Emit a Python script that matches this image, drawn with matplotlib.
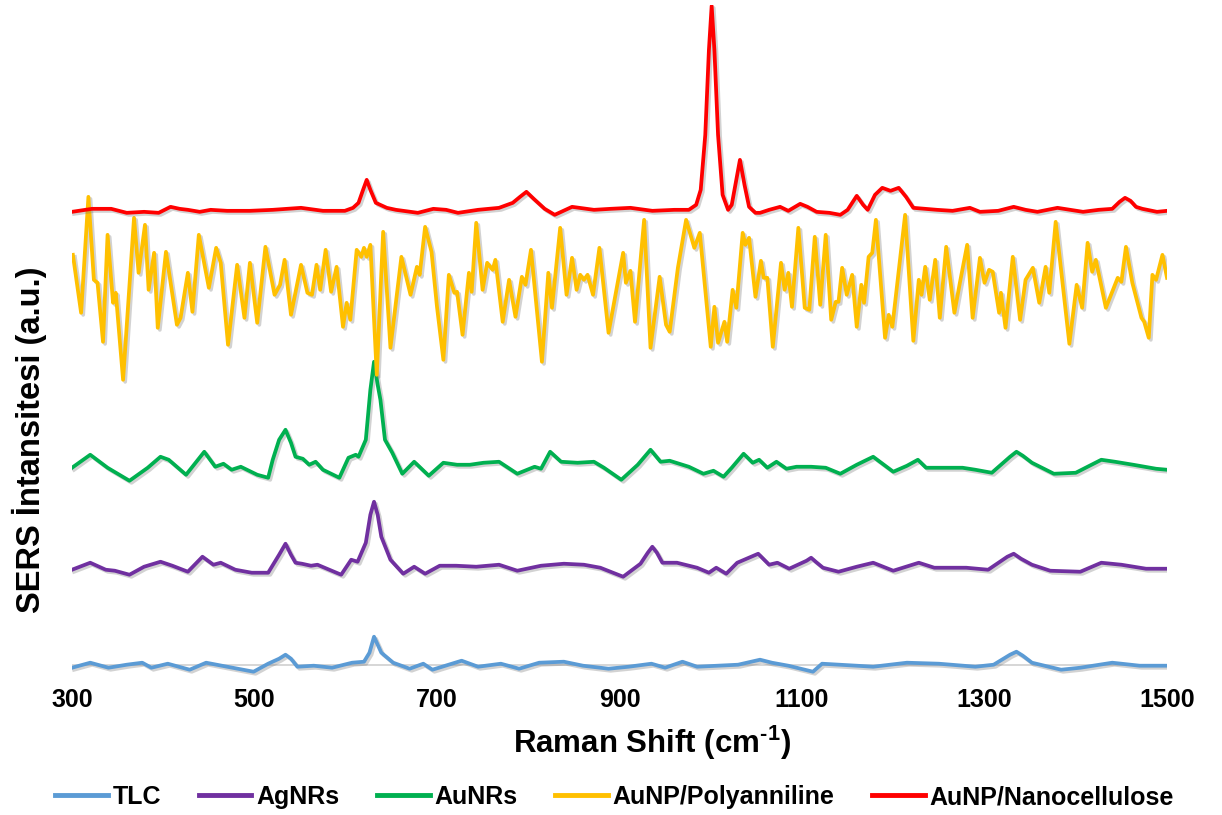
import matplotlib
matplotlib.use("Agg")
import matplotlib.pyplot as plt
import matplotlib.patheffects as pe

plt.rcParams['font.family'] = ['Liberation Sans', 'DejaVu Sans']
plt.rcParams['font.weight'] = 'bold'
plt.rcParams['mathtext.fontset'] = 'custom'
plt.rcParams['mathtext.rm'] = 'Liberation Sans:bold'
plt.rcParams['mathtext.bf'] = 'Liberation Sans:bold'
plt.rcParams['mathtext.default'] = 'bf'

# Raman shift (cm-1) / intensity (a.u., offset traces)
tlc_x = [300, 320, 340, 360, 377, 387, 405, 429, 447, 470, 499, 515, 527, 534, 540, 547,
         565, 585, 607, 620, 626, 631, 635, 639, 652, 670, 685, 695, 727, 745, 770, 790,
         812, 839, 860, 888, 910, 935, 950, 969, 985, 1030, 1054, 1067, 1085, 1112, 1122,
         1160, 1178, 1215, 1250, 1290, 1310, 1328, 1335, 1342, 1352, 1384, 1405, 1440,
         1470, 1500]
tlc_y = [-3, 2, -3, 0, 2, -3, 1, -5, 2, -2, -7, 1, 6, 10, 6, -2,
         -1, -3, 2, 3, 12, 28, 20, 12, 2, -4, 1, -5, 4, -2, 1, -4,
         2, 3, -1, -4, -2, 1, -3, 3, -2, 0, 5, 2, -1, -7, 1,
         -1, -2, 2, 1, -2, 0, 10, 13, 9, 2, -5, -3, 2,
         -1, -1]

ag_x = [300, 320, 337, 347, 363, 379, 397, 410, 427, 443, 455, 463, 479, 497, 515, 527,
        534, 540, 545, 552, 562, 569, 582, 595, 606, 613, 622, 627, 631, 635, 639, 649,
        663, 675, 687, 703, 721, 743, 768, 788, 814, 839, 861, 879, 904, 923, 931, 936,
        941, 947, 963, 985, 998, 1006, 1017, 1029, 1052, 1064, 1073, 1086, 1105, 1110,
        1115, 1123, 1140, 1160, 1178, 1200, 1228, 1245, 1280, 1304, 1325, 1332, 1340,
        1352, 1372, 1405, 1428, 1450, 1477, 1500]
ag_y = [95, 102, 95, 94, 90, 98, 103, 99, 93, 108, 100, 102, 95, 92, 92, 110,
        121, 110, 102, 101, 99, 100, 95, 90, 105, 103, 122, 150, 163, 150, 128, 105,
        91, 98, 91, 99, 99, 98, 100, 94, 99, 101, 100, 97, 88, 101, 112, 118,
        112, 102, 102, 97, 92, 97, 91, 102, 111, 100, 102, 96, 104, 107,
        103, 97, 93, 98, 102, 94, 102, 97, 97, 95, 108, 111, 106,
        100, 94, 93, 102, 100, 96, 96]

au_x = [300, 320, 339, 363, 383, 397, 406, 425, 445, 457, 466, 475, 485, 503, 515, 520,
        527, 534, 540, 545, 553, 560, 567, 575, 593, 603, 611, 614, 622, 627, 631, 635,
        638, 643, 651, 662, 675, 691, 707, 722, 736, 751, 768, 788, 807, 814, 824, 836,
        854, 872, 883, 902, 920, 934, 945, 955, 976, 992, 1003, 1014, 1023, 1036, 1046,
        1053, 1062, 1072, 1083, 1094, 1110, 1126, 1142, 1160, 1178, 1200, 1215, 1227,
        1236, 1254, 1276, 1290, 1308, 1328, 1335, 1342, 1352, 1376, 1400, 1428, 1443,
        1463, 1488, 1500]
au_y = [197, 210, 197, 184, 197, 208, 205, 190, 213, 198, 201, 195, 198, 190, 187, 205,
        225, 235, 222, 208, 206, 200, 203, 195, 187, 207, 210, 208, 225, 275, 303, 280,
        265, 225, 212, 191, 203, 189, 202, 200, 200, 202, 203, 191, 198, 196, 213, 203,
        202, 203, 197, 185, 200, 215, 203, 204, 198, 191, 194, 188, 197, 211, 202,
        205, 197, 203, 196, 198, 198, 197, 191, 200, 208, 193, 199, 205,
        197, 197, 197, 195, 192, 208, 213, 209, 202, 191, 192, 205, 203,
        200, 196, 195]

pani_x = [301, 310, 318, 324, 328, 334, 339, 345, 348, 356, 368, 373, 380, 384, 390, 394,
          403, 415, 419, 427, 432, 439, 450, 458, 463, 471, 481, 489, 495, 503, 512, 522,
          528, 533, 540, 551, 558, 563, 568, 572, 578, 584, 590, 597, 601, 605, 612, 617,
          620, 623, 627, 634, 641, 649, 661, 671, 678, 681, 687, 694, 700, 707, 713, 719,
          722, 728, 735, 738, 743, 750, 755, 761, 764, 772, 779, 786, 793, 797, 803, 815,
          822, 826, 835, 842, 848, 853, 857, 861, 865, 871, 878, 888, 896, 904, 907, 912,
          917, 927, 934, 944, 951, 955, 964, 973, 982, 988, 1000, 1004, 1008, 1015, 1018,
          1024, 1028, 1035, 1038, 1042, 1049, 1055, 1058, 1062, 1068, 1077, 1081, 1085, 1089,
          1096, 1103, 1108, 1114, 1120, 1126, 1132, 1137, 1140, 1144, 1149, 1155, 1160, 1165,
          1168, 1173, 1177, 1181, 1191, 1195, 1199, 1213, 1222, 1228, 1231, 1235, 1240, 1246,
          1251, 1258, 1267, 1273, 1281, 1287, 1295, 1300, 1305, 1309, 1316, 1318, 1323, 1331,
          1339, 1345, 1353, 1360, 1367, 1371, 1378, 1393, 1401, 1407, 1413, 1418, 1422, 1433,
          1446, 1450, 1455, 1462, 1472, 1475, 1480, 1484, 1488, 1495, 1500]
pani_y = [410, 352, 468, 385, 382, 323, 430, 362, 372, 285, 447, 392, 440, 375, 412, 337,
          413, 340, 347, 392, 353, 430, 377, 417, 402, 320, 400, 347, 402, 342, 418, 370,
          380, 405, 350, 400, 372, 370, 400, 375, 415, 373, 398, 338, 362, 345, 415, 408,
          417, 408, 420, 290, 433, 317, 408, 370, 398, 390, 438, 413, 358, 305, 390, 372,
          373, 330, 392, 373, 442, 375, 402, 395, 405, 343, 385, 348, 388, 380, 415, 303,
          392, 357, 437, 370, 407, 375, 390, 385, 390, 370, 417, 332, 372, 412, 382, 394,
          343, 445, 317, 388, 340, 333, 397, 445, 417, 432, 318, 358, 322, 343, 323,
          375, 357, 432, 420, 427, 368, 404, 387, 387, 318, 402, 375, 392, 358,
          437, 357, 355, 428, 360, 430, 345, 363, 363, 397, 370, 390, 338, 380,
          362, 408, 412, 445, 327, 350, 338, 450, 324, 385, 370, 398, 365, 405,
          347, 418, 352, 382, 420, 347, 407, 382, 395, 393, 352, 372, 337, 408,
          345, 385, 397, 362, 398, 372, 443, 321, 380, 357, 422, 393, 405, 357,
          387, 383, 418, 382, 347, 343, 327, 390, 385, 410, 387]

nano_x = [300, 322, 343, 360, 379, 395, 408, 418, 427, 440, 452, 470, 495, 520, 551, 575,
          599, 608, 614, 619, 623, 627, 633, 645, 655, 679, 696, 710, 723, 745, 768, 783,
          791, 798, 806, 818, 829, 848, 872, 890, 912, 936, 960, 976, 984, 989, 994, 998,
          1001, 1004, 1008, 1013, 1019, 1023, 1027, 1032, 1037, 1042, 1049, 1054, 1064, 1076,
          1085, 1098, 1106, 1116, 1130, 1142, 1150, 1160, 1167, 1172, 1180, 1188, 1197, 1206,
          1214, 1222, 1248, 1265, 1284, 1295, 1315, 1332, 1345, 1358, 1380, 1408, 1425, 1440,
          1448, 1454, 1460, 1466, 1473, 1489, 1500]
nano_y = [453, 456, 456, 452, 453, 452, 458, 456, 455, 453, 455, 454, 454, 455, 457, 454,
          454, 457, 462, 475, 485, 475, 462, 457, 455, 452, 456, 455, 452, 455, 457, 462,
          468, 473, 466, 456, 450, 458, 455, 456, 457, 454, 455, 455, 460, 475, 530, 615,
          659, 615, 530, 470, 455, 460, 480, 505, 480, 458, 452, 452, 455, 458,
          454, 461, 458, 453, 452, 450, 455, 469, 460, 455, 470, 477, 474, 477,
          468, 457, 455, 454, 457, 453, 454, 458, 455, 453, 457, 453, 455, 456,
          463, 467, 464, 458, 456, 453, 454]

series = [
    ("TLC", tlc_x, tlc_y, "#5B9BD5"),
    ("AgNRs", ag_x, ag_y, "#7030A0"),
    ("AuNRs", au_x, au_y, "#00B050"),
    ("AuNP/Polyanniline", pani_x, pani_y, "#FFC000"),
    ("AuNP/Nanocellulose", nano_x, nano_y, "#FF0000"),
]

fig = plt.figure(figsize=(12.22, 8.15), dpi=100)
ax = fig.add_axes([0.0589, 0.166, 0.8961, 0.828])

shadow = [pe.SimpleLineShadow(offset=(1.5, -1.5), shadow_color='gray', alpha=0.35),
          pe.Normal()]

ax.axhline(0, color='#D0D0D0', lw=1.2, zorder=1)
for name, xs, ys, col in series:
    ax.plot(xs, ys, color=col, lw=2.7, label=name, path_effects=shadow,
            solid_joinstyle='round', zorder=2)

ax.set_xlim(300, 1500)
ax.set_ylim(-15, 660)
ax.set_xticks([300, 500, 700, 900, 1100, 1300, 1500])
ax.set_yticks([])
for s in ax.spines.values():
    s.set_visible(False)
ax.tick_params(axis='x', length=0, pad=6, labelsize=18)
for lbl in ax.get_xticklabels():
    lbl.set_fontweight('bold')

fig.text(0.5336, 0.089, "Raman Shift (cm$^{\u2010 1}$)", ha='center', va='center',
         fontsize=22.5, fontweight='bold')
fig.text(0.024, 0.46, "SERS İntansitesi (a.u.)", ha='center', va='center',
         rotation=90, fontsize=23.5, fontweight='bold')

leg = fig.legend(loc='center', bbox_to_anchor=(0.503, 0.022), ncol=5, frameon=False,
                 handlelength=2.1, handletextpad=0.2, columnspacing=1.5,
                 prop={'weight': 'bold', 'size': 18})
for h in leg.legend_handles:
    h.set_linewidth(3.5)
    h.set_path_effects([])

fig.savefig("out.png", dpi=100)
